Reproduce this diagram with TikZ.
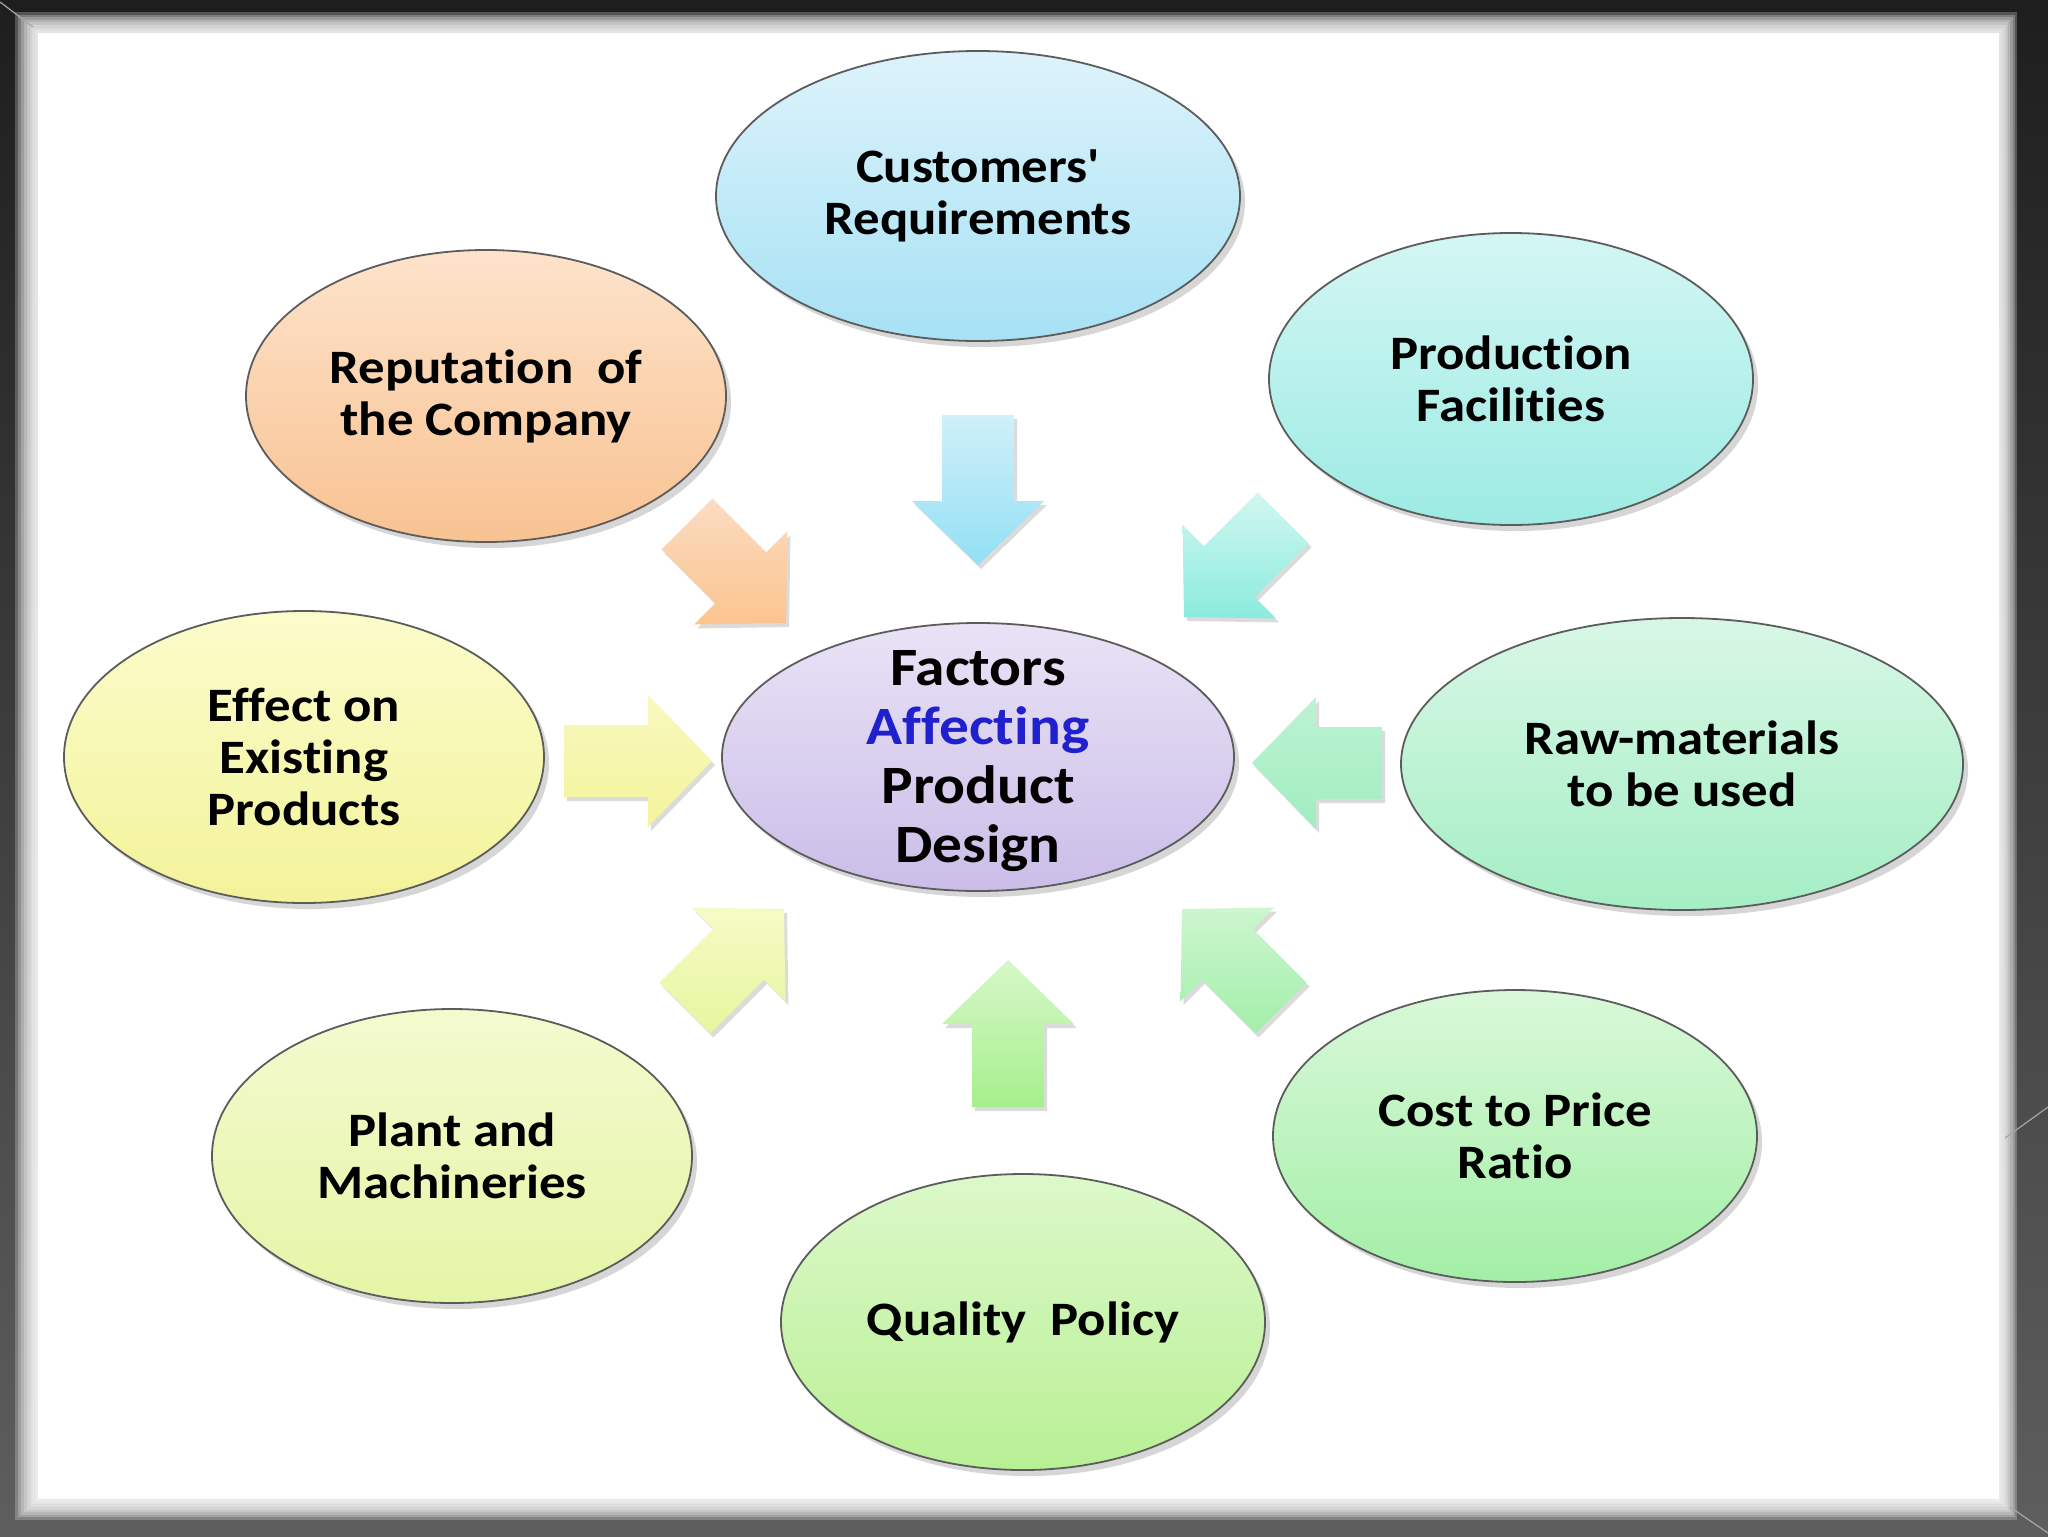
\documentclass[tikz,border=0pt]{standalone}
\usepackage{fontspec}
\setmainfont{Carlito}[FakeStretch=1.1, Ligatures={TeXOff,NoCommon}]
\usetikzlibrary{shapes.geometric,calc,shadows}
\definecolor{frtop}{HTML}{1E1E1E}
\definecolor{frbot}{HTML}{5E5E5E}
\definecolor{affblue}{HTML}{2020CC}
\definecolor{custT}{HTML}{DDF3FB}\definecolor{custB}{HTML}{A6E1F4}
\definecolor{prodT}{HTML}{D4F6F4}\definecolor{prodB}{HTML}{9CEBE3}
\definecolor{repT}{HTML}{FDE3CB}\definecolor{repB}{HTML}{F8C291}
\definecolor{effT}{HTML}{FBFCCB}\definecolor{effB}{HTML}{F3F39A}
\definecolor{ctrT}{HTML}{E9E3F6}\definecolor{ctrB}{HTML}{CBBDE8}
\definecolor{rawT}{HTML}{D8F7E6}\definecolor{rawB}{HTML}{A5EEC4}
\definecolor{plantT}{HTML}{F4FACF}\definecolor{plantB}{HTML}{E4F5A6}
\definecolor{costT}{HTML}{D9F8D9}\definecolor{costB}{HTML}{A3EFA6}
\definecolor{qualT}{HTML}{DDF8CA}\definecolor{qualB}{HTML}{B8F094}
\definecolor{aAT}{HTML}{D0F0FA}\definecolor{aAB}{HTML}{92E0F4}
\definecolor{aBT}{HTML}{D6F8C8}\definecolor{aBB}{HTML}{A6EF8C}
\definecolor{aCT}{HTML}{F8F8C0}\definecolor{aCB}{HTML}{F4F49A}
\definecolor{aDT}{HTML}{BDF3D2}\definecolor{aDB}{HTML}{A0EDC0}
\definecolor{aET}{HTML}{FBDCC2}\definecolor{aEB}{HTML}{FBC48E}
\definecolor{aFT}{HTML}{D2F7F2}\definecolor{aFB}{HTML}{8AEBDC}
\definecolor{aGT}{HTML}{F6FBC6}\definecolor{aGB}{HTML}{E6F69E}
\definecolor{aHT}{HTML}{CDF6CE}\definecolor{aHB}{HTML}{A2EFAA}
\tikzset{
  bubble/.style={ellipse, draw=black!64, line width=0.9pt, inner sep=0pt, align=center,
    font=\bfseries\fontsize{24}{26}\selectfont,
    drop shadow={shadow xshift=2.5pt, shadow yshift=-3pt, opacity=0.16, fill=black}},
  arrowsty/.style={drop shadow={shadow xshift=1.5pt, shadow yshift=-2pt, opacity=0.14, fill=black}},
}
\newcommand\blockarr[3]{%
  \coordinate (#1-h) at ($(p#1)!32pt!(t#1)$);
  \path[arrowsty, top color=#2, bottom color=#3]
    ($(t#1)!18pt!90:(p#1)$) -- ($(#1-h)!18pt!-90:(t#1)$) -- ($(#1-h)!33pt!-90:(t#1)$)
    -- (p#1) -- ($(#1-h)!33pt!90:(t#1)$) -- ($(#1-h)!18pt!90:(t#1)$)
    -- ($(t#1)!18pt!-90:(p#1)$) -- cycle;}
\begin{document}
\begin{tikzpicture}[x=0.5pt,y=-0.5pt]
\useasboundingbox (0,0) rectangle (2048,1536);
% frame
\shade[top color=frtop, bottom color=frbot] (0,0) rectangle (2048,1536);
\foreach \i in {0,...,7}
  \fill[white, opacity=0.24] (15+2.9*\i, 12+2.6*\i) rectangle (2017-2.25*\i, 1520-2.6*\i);
\fill[white] (38,33) rectangle (1999,1499);
\draw[white!65!black, line width=0.6pt] (0,2) -- (33,27);
\draw[white!65!black, line width=0.6pt] (2048,1107) -- (2005,1138);
\draw[white!65!black, line width=0.6pt] (2010,1507) -- (2048,1533);

% nodes
\node[bubble, minimum width=262pt, minimum height=145pt, top color=custT, bottom color=custB] (cust) at (978,196) {Customers'\\Requirements};
\node[bubble, minimum width=242pt, minimum height=146pt, top color=prodT, bottom color=prodB] (prod) at (1511,379) {Production\\Facilities};
\node[bubble, minimum width=240pt, minimum height=146pt, top color=repT, bottom color=repB] (rep) at (486,396) {Reputation~~of\\the Company};
\node[bubble, minimum width=240pt, minimum height=146pt, top color=effT, bottom color=effB] (eff) at (304,757) {Effect on\\Existing\\Products};
\node[bubble, minimum width=256pt, minimum height=134pt, top color=ctrT, bottom color=ctrB] (ctr) at (978,757) {};
\node[align=center, inner sep=0pt, font=\bfseries\fontsize{27}{29.5}\selectfont] (ctrtext) at (978,761) {Factors\\\textcolor{affblue}{Affecting}\\Product\\Design};
\node[bubble, minimum width=281pt, minimum height=146pt, top color=rawT, bottom color=rawB] (raw) at (1682,764) {Raw-materials\\to be used};
\node[bubble, minimum width=240pt, minimum height=147pt, top color=plantT, bottom color=plantB] (plant) at (452,1156) {Plant and\\Machineries};
\node[bubble, minimum width=242pt, minimum height=146pt, top color=costT, bottom color=costB] (cost) at (1515,1136) {Cost to Price\\Ratio};
\node[bubble, minimum width=242pt, minimum height=148pt, top color=qualT, bottom color=qualB] (qual) at (1023,1322) {Quality~~Policy};

% arrow endpoints
\coordinate (tA) at (978,415);   \coordinate (pA) at (978,565);
\coordinate (tB) at (1008,1107); \coordinate (pB) at (1008,960);
\coordinate (tC) at (564,761);   \coordinate (pC) at (712,761);
\coordinate (tD) at (1382,763);  \coordinate (pD) at (1252,763);
\coordinate (tE) at (687,524);   \coordinate (pE) at (786,623);
\coordinate (tF) at (1283,518);  \coordinate (pF) at (1184,617);
\coordinate (tG) at (685,1008);  \coordinate (pG) at (784,909);
\coordinate (tH) at (1281,1008); \coordinate (pH) at (1182,909);

\blockarr{A}{aAT}{aAB}
\blockarr{B}{aBT}{aBB}
\blockarr{C}{aCT}{aCB}
\blockarr{D}{aDT}{aDB}
\blockarr{E}{aET}{aEB}
\blockarr{F}{aFT}{aFB}
\blockarr{G}{aGT}{aGB}
\blockarr{H}{aHT}{aHB}
\end{tikzpicture}
\end{document}
